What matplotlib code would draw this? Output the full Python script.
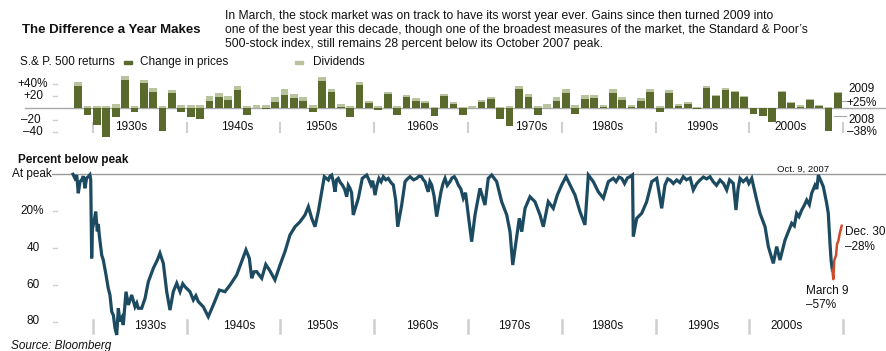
import numpy as np
import matplotlib
matplotlib.use("Agg")
import matplotlib.pyplot as plt

plt.rcParams['font.family'] = ['Liberation Sans', 'DejaVu Sans']

# ---------------------------------------------------------------- data
years = list(range(1928, 2010))

# annual S&P 500 price change, percent
price_change = [
    37.9, -11.9, -28.5, -47.1, -15.2, 46.6, -5.9, 41.4, 27.9, -38.6,
    25.2, -5.5, -15.3, -17.9, 12.4, 19.5, 13.8, 30.7, -11.9, 0.0,
    -0.7, 10.3, 21.8, 16.5, 11.8, -6.6, 45.0, 26.4, 2.6, -14.3,
    38.1, 8.5, -3.0, 23.1, -11.8, 18.9, 13.0, 9.1, -13.1, 20.1,
    7.7, -11.4, 0.1, 10.8, 15.6, -17.4, -29.7, 31.5, 19.1, -11.5,
    1.1, 12.3, 25.8, -9.7, 14.8, 17.3, 1.4, 26.3, 14.6, 2.0,
    12.4, 27.3, -6.6, 26.3, 4.5, 7.1, -1.5, 34.1, 20.3, 31.0,
    26.7, 19.5, -10.1, -13.0, -23.4, 26.4, 9.0, 3.0, 13.6, 3.5,
    -38.5, 25.0,
]

# annual dividend contribution, percent
dividends = [
    5.7, 3.5, 3.6, 3.7, 7.0, 7.4, 4.5, 6.3, 6.0, 3.6,
    5.9, 5.0, 5.5, 6.3, 7.9, 6.5, 6.0, 5.7, 3.8, 5.7,
    6.2, 8.5, 9.9, 7.6, 6.6, 5.6, 7.6, 5.2, 3.9, 3.5,
    5.3, 3.5, 3.4, 3.8, 3.1, 3.9, 3.5, 3.4, 3.0, 3.9,
    3.4, 2.9, 3.9, 3.5, 3.4, 2.7, 3.3, 5.7, 4.7, 4.3,
    5.5, 6.1, 6.7, 4.8, 6.7, 5.2, 4.9, 5.8, 3.9, 3.2,
    4.4, 4.2, 3.4, 4.2, 3.2, 2.9, 2.9, 3.5, 2.7, 2.4,
    1.9, 1.5, 1.0, 1.2, 1.3, 2.3, 1.9, 1.9, 2.2, 2.0,
    1.5, 2.6,
]

# percent below the previous peak
peak_time = [
    1927.90, 1928.11, 1928.30, 1928.46, 1928.65, 1928.83, 1929.00, 1929.18,
    1929.35, 1929.53, 1929.70, 1929.79, 1929.89, 1929.97, 1930.06, 1930.20,
    1930.32, 1930.49, 1930.60, 1930.70, 1930.96, 1931.13, 1931.42, 1931.66,
    1931.84, 1932.03, 1932.20, 1932.38, 1932.56, 1932.73, 1932.91, 1933.10,
    1933.26, 1933.55, 1933.80, 1934.16, 1934.51, 1934.70, 1934.86, 1935.22,
    1935.58, 1935.93, 1936.46, 1936.89, 1937.17, 1937.53, 1937.89, 1938.24,
    1938.59, 1938.96, 1939.31, 1939.60, 1939.84, 1940.37, 1940.73, 1941.00,
    1941.26, 1941.79, 1942.32, 1942.86, 1943.50, 1944.10, 1944.64, 1945.35,
    1945.88, 1946.34, 1946.70, 1946.95, 1947.20, 1947.48, 1948.02, 1948.45,
    1948.90, 1949.43, 1949.97, 1950.50, 1951.03, 1951.57, 1952.10, 1952.63,
    1952.99, 1953.35, 1953.70, 1954.05, 1954.41, 1954.69,
    1955.12, 1955.30, 1955.48, 1955.65, 1955.83, 1956.00, 1956.18, 1956.40,
    1956.61, 1956.85, 1957.08, 1957.25, 1957.43, 1957.60, 1957.78, 1958.32,
    1958.74, 1959.21, 1959.45, 1959.67, 1959.85, 1960.10, 1960.30, 1960.52,
    1960.75, 1960.98, 1961.25, 1961.51, 1961.80, 1962.05, 1962.30, 1962.52,
    1962.94, 1963.30, 1963.55, 1963.83, 1964.20, 1964.54, 1964.80, 1965.07,
    1965.25, 1965.43, 1965.60, 1965.78, 1965.95, 1966.14, 1966.40, 1966.67,
    1967.13, 1967.35, 1967.56, 1967.80, 1968.09, 1968.30, 1968.55, 1968.75,
    1968.98, 1969.25, 1969.51, 1969.75, 1970.04,
    1970.40, 1970.76, 1971.29, 1971.82, 1972.17, 1972.54, 1973.07, 1973.60,
    1974.14, 1974.49, 1974.78, 1975.13, 1975.48, 1975.74, 1976.09, 1976.62,
    1977.15, 1977.69, 1978.04, 1978.57, 1979.10, 1979.53, 1980.00, 1980.46,
    1980.89, 1981.42, 1981.95, 1982.48, 1982.84, 1983.37, 1983.90, 1984.44,
    1984.97, 1985.50, 1985.80, 1986.10, 1986.40, 1986.70, 1987.00, 1987.28,
    1987.55, 1987.63, 1988.00, 1988.53, 1989.06, 1989.60, 1990.13, 1990.66,
    1991.01, 1991.30, 1991.55, 1991.90, 1992.26, 1992.60, 1992.96, 1993.30,
    1993.70, 1994.03, 1994.40, 1994.75, 1995.10, 1995.45, 1995.81, 1996.15,
    1996.50, 1996.88, 1997.25, 1997.59, 1997.90, 1998.29, 1998.58, 1998.80,
    1999.01, 1999.35, 1999.72, 1999.95, 2000.26,
    2000.79, 2001.14, 2001.68, 2002.03, 2002.56, 2002.92,
    2003.27, 2003.81, 2004.52, 2004.80, 2005.05, 2005.30, 2005.59, 2005.85,
    2006.12, 2006.40, 2006.65, 2007.00, 2007.20, 2007.36,
    2007.89, 2008.25, 2008.42, 2008.60, 2008.72, 2008.85,
]
below_peak = [
    0.0, 2.2, 0.5, 10.3, 4.0, 3.0, 1.0, 7.6,
    2.0, 1.3, 0.3, 3.0, 45.7, 30.0, 27.5, 24.0,
    20.3, 31.0, 27.0, 33.0, 43.9, 46.6, 54.7, 62.0,
    65.6, 74.7, 76.5, 83.7, 87.3, 72.8, 80.0, 78.0,
    81.9, 63.8, 71.0, 65.6, 72.0, 70.0, 72.8, 72.8,
    67.4, 58.4, 51.1, 46.6, 42.9, 48.4, 63.8, 73.8,
    63.8, 59.2, 63.8, 59.5, 61.1, 63.8, 68.3, 66.0,
    69.2, 72.0, 77.4, 71.0, 62.9, 63.8, 60.2, 54.7,
    47.5, 41.1, 45.7, 56.5, 53.0, 52.9, 56.5, 49.0,
    52.5, 57.4, 49.3, 42.0, 33.0, 28.5, 25.8, 22.1,
    17.6, 23.9, 28.5, 20.3, 9.5, 1.3,
    3.1, 1.0, 0.4, 4.0, 9.5, 3.0, 2.2, 4.5,
    5.8, 8.0, 12.2, 6.0, 7.6, 10.0, 22.1, 13.0,
    2.2, 0.4, 3.0, 5.8, 3.5, 11.3, 6.0, 2.2,
    4.0, 1.3, 3.0, 2.2, 4.5, 5.8, 14.0, 28.5,
    16.7, 4.0, 2.5, 1.3, 3.0, 2.2, 1.0, 1.3,
    3.0, 4.0, 7.0, 9.5, 4.0, 5.8, 12.0, 23.0,
    9.5, 5.0, 2.2, 6.0, 4.0, 2.0, 1.3, 3.0,
    5.8, 8.0, 13.0, 10.0, 22.1,
    36.6, 22.0, 7.6, 16.7, 2.2, 0.4, 4.0, 14.9,
    22.1, 31.2, 49.3, 36.6, 23.9, 31.2, 18.5, 12.2,
    14.9, 22.1, 28.5, 14.9, 18.5, 11.3, 5.8, 1.3,
    5.8, 11.3, 20.3, 27.5, 0.4, 4.0, 9.5, 13.0,
    4.0, 2.2, 4.0, 1.5, 2.2, 5.0, 2.0, 1.3,
    0.3, 33.9, 23.9, 21.2, 14.9, 4.0, 2.2, 18.5,
    5.8, 2.5, 3.1, 5.0, 3.1, 4.5, 1.3, 3.0,
    2.0, 8.5, 5.0, 3.1, 1.5, 2.5, 1.3, 4.0,
    6.0, 3.1, 5.0, 8.5, 3.0, 4.9, 19.4, 8.0,
    2.2, 4.0, 2.2, 5.0, 2.2,
    14.0, 21.2, 28.5, 39.3, 48.4, 39.3,
    46.6, 35.7, 26.6, 28.0, 21.2, 23.0, 19.4, 17.0,
    14.0, 16.5, 10.3, 6.0, 8.0, 0.4,
    6.7, 15.8, 21.2, 37.5, 46.6, 52.0,
]

# 2009: from the March low to the year end
recovery_time = [2008.85, 2008.96, 2009.05, 2009.14, 2009.25, 2009.35,
                 2009.50, 2009.65, 2009.85]
recovery_below_peak = [52.0, 57.0, 47.0, 45.5, 44.0, 38.0, 36.0, 32.0, 28.0]

decades = [1930, 1940, 1950, 1960, 1970, 1980, 1990, 2000, 2010]
decade_labels = ['1930s', '1940s', '1950s', '1960s', '1970s', '1980s',
                 '1990s', '2000s']
bar_ticks = [40, 20, -20, -40]
bar_tick_labels = ['+40%', '+20', '\u201320', '\u201340']
peak_ticks = [20, 40, 60, 80]
peak_tick_labels = ['20%', '40', '60', '80']

# ---------------------------------------------------------------- layout
W, H = 887, 351
PX0, PX_PER_YEAR = 92.7, 9.38          # x pixel of 1930, pixels per year


def yr(px):
    return 1930 + (px - PX0) / PX_PER_YEAR


def fx(px):
    return px / W


def fy(py):
    return 1 - py / H


DARK = '#5a6a2d'
LIGHT = '#b9c39d'
LINE = '#1c4b61'
RED = '#cf4b2c'
GRID = '#a8a8a8'
TICK = '#cfcfcf'
TXT = '#111111'
FS = 8.5

fig = plt.figure(figsize=(W / 100, H / 100), dpi=100)
fig.patch.set_facecolor('white')

# ---------------------------------------------------------------- header
fig.text(fx(22.5), fy(30), 'The Difference a Year Makes', fontsize=9.5,
         fontweight='bold', color=TXT, ha='left', va='center')
para = ["In March, the stock market was on track to have its worst year ever. "
        "Gains since then turned 2009 into",
        "one of the best year this decade, though one of the broadest measures "
        "of the market, the Standard & Poor\u2019s",
        "500-stock index, still remains 28 percent below its October 2007 peak."]
for i, line in enumerate(para):
    fig.text(fx(225), fy(15.5 + 14.3 * i), line, fontsize=8.7, color=TXT,
             ha='left', va='center')

fig.text(fx(20.5), fy(62), 'S.& P. 500 returns', fontsize=FS, color=TXT,
         ha='left', va='center')
fig.patches.append(plt.Rectangle((fx(124), fy(63.5)), 8 / W, 3 / H,
                                 transform=fig.transFigure, color=DARK))
fig.text(fx(140), fy(62), 'Change in prices', fontsize=FS, color=TXT,
         ha='left', va='center')
fig.patches.append(plt.Rectangle((fx(295), fy(63.5)), 8 / W, 3 / H,
                                 transform=fig.transFigure, color=LIGHT))
fig.text(fx(313), fy(62), 'Dividends', fontsize=FS, color=TXT,
         ha='left', va='center')

# ---------------------------------------------------------------- bar panel
ZERO_PY, PX_PER_PCT = 108.3, 0.6
ax1 = fig.add_axes([0, fy(140), 1, 70 / H])
ax1.set_xlim(yr(0), yr(W))
ax1.set_ylim((ZERO_PY - 140) / PX_PER_PCT, (ZERO_PY - 70) / PX_PER_PCT)
ax1.axis('off')

yrs = np.array(years, dtype=float)
pc = np.array(price_change)
dv = np.array(dividends)
ax1.plot([yr(25), yr(885)], [0, 0], color=GRID, lw=1, zorder=1)
ax1.bar(yrs + 0.45, pc, width=0.82, color=DARK, zorder=2, linewidth=0)
ax1.bar(yrs + 0.45, dv, bottom=np.maximum(pc, 0), width=0.82, color=LIGHT,
        zorder=2, linewidth=0)

label_right = [48, 43, 41, 43]
for v, lab, xr in zip(bar_ticks, bar_tick_labels, label_right):
    ax1.text(yr(xr), v, lab, fontsize=FS, color=TXT, ha='right', va='center')
    ax1.plot([yr(53), yr(57)], [v, v], color=TICK, lw=1)

for d in decades:
    ax1.plot([d, d], [(ZERO_PY - 123) / PX_PER_PCT, (ZERO_PY - 132) / PX_PER_PCT],
             color=TICK, lw=1.5, zorder=1)
top_label_px = [131.3, 237.5, 321.3, 421.7, 530.8, 607.5, 701.7, 790.8]
for lab, px in zip(decade_labels, top_label_px):
    ax1.text(yr(px), (ZERO_PY - 127) / PX_PER_PCT, lab, fontsize=FS, color=TXT,
             ha='center', va='center', zorder=3)

# end-of-series labels
ax1.plot([yr(842), yr(847)], [(ZERO_PY - 101) / PX_PER_PCT] * 2, color=GRID, lw=0.8)
ax1.plot([yr(834), yr(846)], [(ZERO_PY - 116) / PX_PER_PCT] * 2, color=GRID, lw=0.8)
ax1.text(yr(862), (ZERO_PY - 88.5) / PX_PER_PCT, f'{years[-1]}', fontsize=FS,
         color=TXT, ha='center', va='center')
ax1.text(yr(862), (ZERO_PY - 103) / PX_PER_PCT, f'+{price_change[-1]:.0f}%',
         fontsize=FS, color=TXT, ha='center', va='center')
ax1.text(yr(862), (ZERO_PY - 120) / PX_PER_PCT, f'{years[-2]}', fontsize=FS,
         color=TXT, ha='center', va='center')
ax1.text(yr(862), (ZERO_PY - 132) / PX_PER_PCT,
         f'\u2013{abs(price_change[-2]):.0f}%', fontsize=FS, color=TXT,
         ha='center', va='center')

# ---------------------------------------------------------------- drawdown panel
fig.text(fx(18.5), fy(160), 'Percent below peak', fontsize=FS,
         fontweight='bold', color=TXT, ha='left', va='center')

PEAK_PY, PX_PER_PCT2 = 174.3, 1.84
ax2 = fig.add_axes([0, fy(342), 1, (342 - 163) / H])
ax2.set_xlim(yr(0), yr(W))
ax2.set_ylim((342 - PEAK_PY) / PX_PER_PCT2, (163 - PEAK_PY) / PX_PER_PCT2)
ax2.axis('off')

ax2.plot([yr(52), yr(885)], [0, 0], color='#9a9a9a', lw=1, zorder=1)
ax2.text(yr(52), 0, 'At peak', fontsize=FS, color=TXT, ha='right', va='center')
peak_label_right = [43.5, 39.5, 39.5, 39.5]
for v, lab, xr in zip(peak_ticks, peak_tick_labels, peak_label_right):
    ax2.text(yr(xr), v, lab, fontsize=FS, color=TXT, ha='right', va='center')
    ax2.plot([yr(53), yr(57)], [v, v], color=TICK, lw=1)

for d in decades:
    ax2.plot([d, d], [(320 - PEAK_PY) / PX_PER_PCT2, (333 - PEAK_PY) / PX_PER_PCT2],
             color=TICK, lw=1.8, zorder=1)
bottom_label_px = [150.5, 239.3, 322.5, 422.5, 514.5, 607.5, 702.8, 787]
for lab, px in zip(decade_labels, bottom_label_px):
    ax2.text(yr(px), (326 - PEAK_PY) / PX_PER_PCT2, lab, fontsize=FS, color=TXT,
             ha='center', va='center')

ax2.plot(peak_time, below_peak, color=LINE, lw=2.3, solid_joinstyle='miter',
         zorder=3)
ax2.plot(recovery_time, recovery_below_peak, color=RED, lw=1.8, zorder=4)

ax2.text(yr(803), (169 - PEAK_PY) / PX_PER_PCT2, 'Oct. 9, 2007', fontsize=6.8,
         color=TXT, ha='center', va='center')
ax2.text(yr(845), (232 - PEAK_PY) / PX_PER_PCT2, 'Dec. 30', fontsize=FS,
         color=TXT, ha='left', va='center')
ax2.text(yr(845), (247 - PEAK_PY) / PX_PER_PCT2,
         f'\u2013{recovery_below_peak[-1]:.0f}%', fontsize=FS, color=TXT,
         ha='left', va='center')
ax2.text(yr(805.5), (291 - PEAK_PY) / PX_PER_PCT2, 'March 9', fontsize=FS,
         color=TXT, ha='left', va='center')
ax2.text(yr(805.5), (305.5 - PEAK_PY) / PX_PER_PCT2,
         f'\u2013{max(recovery_below_peak):.0f}%', fontsize=FS, color=TXT,
         ha='left', va='center')

fig.text(fx(11), fy(346.5), 'Source: Bloomberg', fontsize=FS, style='italic',
         color=TXT, ha='left', va='center')

fig.savefig('out.png', dpi=100)
